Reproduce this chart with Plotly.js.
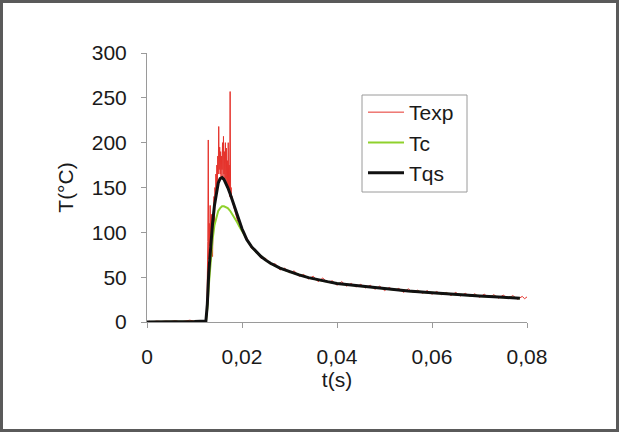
<!DOCTYPE html>
<html>
<head>
<meta charset="utf-8">
<script src="https://cdn.plot.ly/plotly-3.0.1.min.js"></script>
<style>
  html, body { margin: 0; padding: 0; background: #fff; }
  #chart { position: absolute; left: 0; top: 0; width: 620px; height: 434px; }
  #frame { position: absolute; left: 0; top: 0; width: 619px; height: 432px; box-sizing: border-box;
           border: 3px solid #5a5a5a; pointer-events: none; }
</style>
</head>
<body>
<div id="chart"></div>
<div id="frame"></div>
<script>
// ---- Data ----
const tExp = [0.0005,0.001,0.002,0.003,0.004,0.005,0.006,0.007,0.008,0.009,0.010,0.011,0.012,
  0.0124,0.0126,0.0127,0.0128,0.0129,0.0130,0.0131,0.0132,0.0133,0.0134,0.0135,0.0136,0.0137,0.0138,0.0139,
  0.0140,0.0141,0.0142,0.0143,0.0144,0.0145,0.0146,0.0147,0.0148,0.0149,0.0150,0.0151,0.0152,0.0153,0.0154,
  0.0155,0.0156,0.0157,0.0158,0.0159,0.0160,0.0161,0.0162,0.0163,0.0164,0.0165,0.0166,0.0167,0.0168,0.0169,
  0.0170,0.0171,0.0172,0.0173,0.0174,0.0175,0.0176,0.0177,0.0178,0.0179,0.0180,0.0182,0.0184,0.0186,0.0188,
  0.0190,0.0193,0.0196,0.0200,0.0205,
  0.021,0.022,0.023,0.024,0.025,0.026,0.027,0.028,0.029,0.030,0.031,0.032,0.033,0.034,0.035,0.036,0.037,
  0.038,0.039,0.040,0.041,0.042,0.043,0.044,0.045,0.046,0.047,0.048,0.049,0.050,0.051,0.052,0.053,0.054,
  0.055,0.056,0.057,0.058,0.059,0.060,0.061,0.062,0.063,0.064,0.065,0.066,0.067,0.068,0.069,0.070,0.071,
  0.072,0.073,0.074,0.075,0.076,0.077,0.078,0.079,0.0795,0.080];
const Texp = [1,0,1,0.5,1,0.5,1.5,0,1,2,1,0.5,1,
  1,8,35,90,203,70,110,85,130,95,75,120,80,73,115,
  95,140,110,150,130,165,140,175,155,185,165,218,170,195,165,
  190,160,185,170,200,160,207,165,190,155,200,160,194,150,180,
  150,200,145,175,140,257,140,150,138,140,134,130,123,119,115,
  112,108,105,102,97,
  94,82,80,71,71,64,65,58,60,55,57,51,53,48,51,45,49,
  44,46,41,45,40,43,39,42,38,41,36.5,40,35,38.5,35,37.5,33,
  37,33,35.5,32,35,31,34,30.5,33,29.5,33,29,32,28.5,31.5,27.5,31,
  27,30.5,26.5,30,26,29.5,25.5,28.5,26,28];

const tModel = [0,0.005,0.010,0.0124,0.0127,0.0130,0.0134,0.0138,0.0142,0.0146,0.0150,0.0154,0.0158,0.0162,
  0.0166,0.0170,0.0175,0.0180,0.0185,0.0190,0.0195,0.0200,0.0205,0.021,0.022,0.023,0.024,0.025,0.026,0.028,
  0.030,0.032,0.034,0.036,0.038,0.040,0.045,0.050,0.055,0.060,0.065,0.070,0.075,0.0785];
const Tc = [0,0,0.5,1,15,40,70,92,108,118,124,127,129,129,
  128,127,124,120,115,111,106,102,97,92,84,78,73,69,65.5,60,
  56,52.5,49.5,47,45,43,40,37,34.5,32.5,30.5,29,27.5,26.5];
const Tqs = [0,0,0.5,1,20,55,85,110,130,145,155,160,161,159,
  155,150,143,135,127,119,111,104,98,92,84,78,73,69,65.5,60,
  56,52.5,49.5,47,45,43,40,37,34.5,32.5,30.5,29,27.5,26.5];

const xTicks = [0,0.02,0.04,0.06,0.08];
const xTickText = ['0','0,02','0,04','0,06','0,08'];
const yTicks = [0,50,100,150,200,250,300];

const FONT = 'Liberation Sans, Arial, Helvetica, sans-serif';

const traces = [
  {x: tExp, y: Texp, name: 'Texp', mode: 'lines', line: {color: '#e5322b', width: 1}},
  {x: tModel, y: Tc, name: 'Tc', mode: 'lines', line: {color: '#8fd12c', width: 2}},
  {x: tModel, y: Tqs, name: 'Tqs', mode: 'lines', line: {color: '#111111', width: 3}}
];

const axisCommon = {
  showgrid: false, zeroline: false, showline: true, linecolor: '#9a9a9a', linewidth: 1,
  ticks: 'outside', ticklen: 5, tickcolor: '#9a9a9a', tickwidth: 1,
  tickfont: {family: FONT, size: 21, color: '#1a1a1a'}
};

const layout = {
  width: 620, height: 434,
  margin: {l: 147, r: 93, t: 53, b: 112},
  paper_bgcolor: '#ffffff', plot_bgcolor: '#ffffff',
  showlegend: true,
  xaxis: Object.assign({}, axisCommon, {
    range: [0, 0.08], tickvals: xTicks, ticktext: xTickText, ticklabelstandoff: 11,
    title: {text: 't(s)', font: {family: FONT, size: 21, color: '#1a1a1a'}, standoff: 2}
  }),
  yaxis: Object.assign({}, axisCommon, {
    range: [0, 300], tickvals: yTicks, ticklabelstandoff: 10,
    title: {text: 'T(°C)', font: {family: FONT, size: 21, color: '#1a1a1a'}, standoff: 12}
  }),
  legend: {
    x: (363 - 147) / 380, y: (322 - 92) / 269, xanchor: 'left', yanchor: 'top',
    bgcolor: 'rgba(0,0,0,0)', borderwidth: 0,
    font: {family: FONT, size: 21, color: '#1a1a1a'},
    tracegroupgap: 0, itemwidth: 36
  },
  shapes: [{
    type: 'rect', xref: 'paper', yref: 'paper',
    x0: (362 - 147) / 380, x1: (467 - 147) / 380,
    y0: (322 - 192) / 269, y1: (322 - 95) / 269,
    line: {color: '#9a9a9a', width: 1}, fillcolor: '#ffffff', layer: 'below'
  }]
};

Plotly.newPlot('chart', traces, layout, {staticPlot: true, displayModeBar: false});
</script>
</body>
</html>
